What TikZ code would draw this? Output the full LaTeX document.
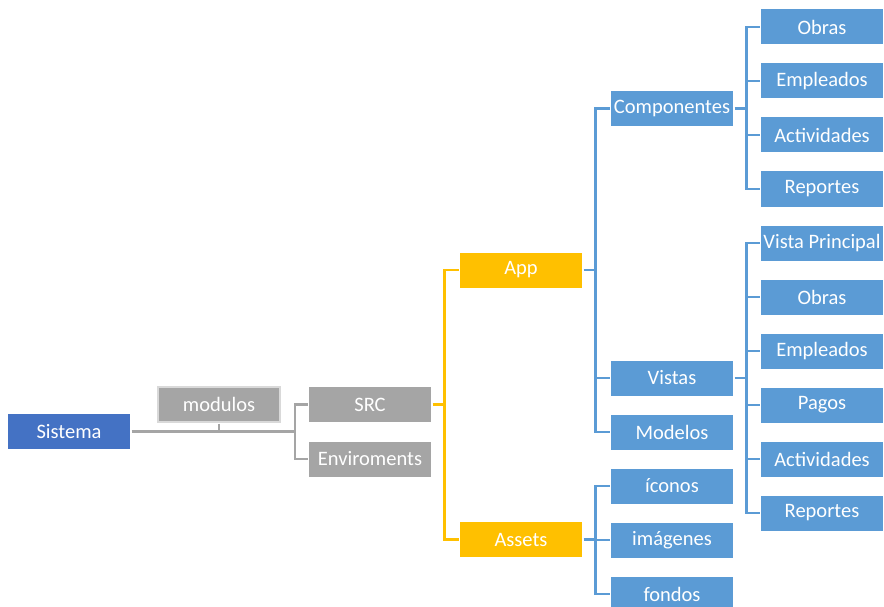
\documentclass[tikz,border=0pt]{standalone}
\usepackage{fontspec}
\setmainfont{Carlito}
\definecolor{rootblue}{HTML}{4472C4}
\definecolor{leafblue}{HTML}{5B9BD5}
\definecolor{midgray}{HTML}{A5A5A5}
\definecolor{lightgray}{HTML}{D9D9D9}
\definecolor{amber}{HTML}{FFC000}
\tikzset{
  box/.style={minimum width=122pt, minimum height=35pt, inner sep=0pt, outer sep=1.5pt,
    text=white, font=\fontsize{20.5}{22}\selectfont, anchor=west, xshift=-1.5pt},
  rootbox/.style={box, fill=rootblue},
  graybox/.style={box, fill=midgray},
  amberbox/.style={box, fill=amber},
  bluebox/.style={box, fill=leafblue},
  grayline/.style={draw=midgray, line width=2.5pt},
  amberline/.style={draw=amber, line width=2.5pt},
  blueline/.style={draw=leafblue, line width=2.5pt},
}
\begin{document}
\begin{tikzpicture}[x=1pt, y=-1pt]
\useasboundingbox (0,0) rectangle (884,607);
\clip (0,0) rectangle (884,607);

% level 0 and 1
\node[rootbox] (sistema) at (8,431.5) {Sistema};
\node[graybox, draw=lightgray, line width=2pt] (modulos) at (158,404.5) {modulos};
\node[graybox] (src) at (309,404.5) {SRC};
\node[graybox] (env) at (309,459) {Enviroments};

% level 2
\node[amberbox] (app) at (460,270) {App};
\node[amberbox] (assets) at (460,539.5) {Assets};

% level 3
\node[bluebox] (comp) at (611,108.5) {Componentes};
\node[bluebox] (vistas) at (611,378) {Vistas};
\node[bluebox] (modelos) at (611,432) {Modelos};
\node[bluebox] (iconos) at (611,486) {íconos};
\node[bluebox] (imagenes) at (611,540) {imágenes};
\node[bluebox] (fondos) at (611,594) {fondos};

% level 4: components
\node[bluebox] (c1) at (761,27) {Obras};
\node[bluebox] (c2) at (761,81) {Empleados};
\node[bluebox] (c3) at (761,135) {Actividades};
\node[bluebox] (c4) at (761,189) {Reportes};

% level 4: views
\node[bluebox] (v1) at (761,243) {Vista Principal};
\node[bluebox] (v2) at (761,297) {Obras};
\node[bluebox] (v3) at (761,351) {Empleados};
\node[bluebox] (v4) at (761,405) {Pagos};
\node[bluebox] (v5) at (761,459) {Actividades};
\node[bluebox] (v6) at (761,513) {Reportes};

% gray connectors
\coordinate (gbus) at (295,431.5);
\draw[grayline] (sistema.east) -- (gbus);
\draw[grayline] (modulos.south) -- (modulos.south |- sistema.east);
\draw[grayline] (src.west) -| (gbus) |- (env.west);

% amber connectors
\draw[amberline] (src.east) -- ++(12,0) coordinate (abus);
\draw[amberline] (app.west) -| (abus) |- (assets.west);

% blue connectors under App
\draw[blueline] (app.east) -- ++(12,0) coordinate (pbus);
\draw[blueline] (comp.west) -| (pbus) |- (modelos.west);
\draw[blueline] (vistas.west) -- (vistas.west -| pbus);

% blue connectors under Assets
\draw[blueline] (assets.east) -- ++(12,0) coordinate (sbus);
\draw[blueline] (iconos.west) -| (sbus) |- (fondos.west);
\draw[blueline] (imagenes.west) -- (imagenes.west -| sbus);

% blue connectors under Componentes
\draw[blueline] (comp.east) -- ++(12,0) coordinate (cbus);
\draw[blueline] (c1.west) -| (cbus) |- (c4.west);
\foreach \n in {c2,c3} \draw[blueline] (\n.west) -- (\n.west -| cbus);

% blue connectors under Vistas
\draw[blueline] (vistas.east) -- ++(12,0) coordinate (vbus);
\draw[blueline] (v1.west) -| (vbus) |- (v6.west);
\foreach \n in {v2,v3,v4,v5} \draw[blueline] (\n.west) -- (\n.west -| vbus);
\end{tikzpicture}
\end{document}
